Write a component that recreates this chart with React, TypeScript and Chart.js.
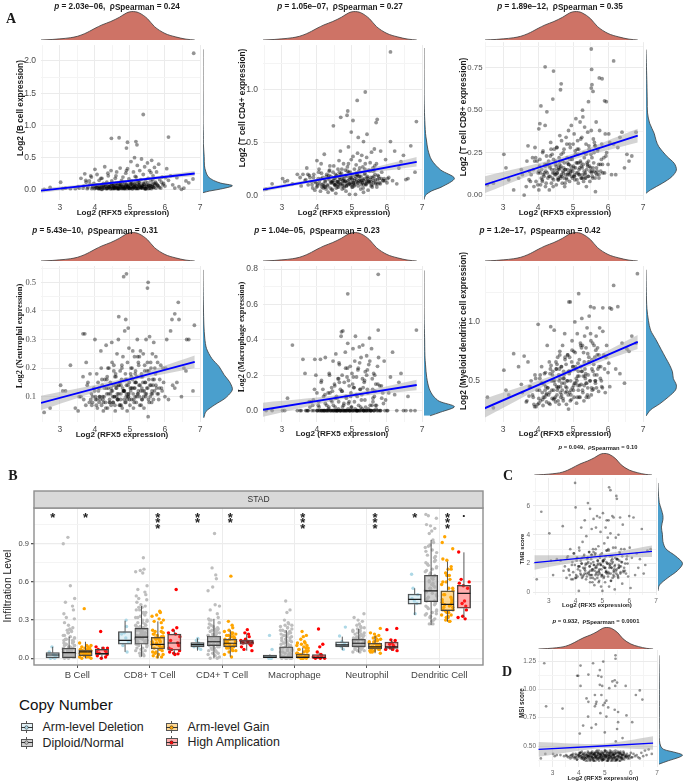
import { useEffect, useRef } from 'react';
import { Chart, registerables } from 'chart.js';
Chart.register(...registerables);

const SANS = '"Liberation Sans", Arial, sans-serif';
const SERIF = '"Liberation Serif", "Times New Roman", serif';

// Shared x: RFX5 expression of the main point cloud
const RFX5 = [
  2.55,2.72,3.02,3.08,3.16,3.3,3.44,3.52,3.6,3.66,
  3.71,3.75,3.8,3.84,3.88,3.91,3.94,3.97,4.0,4.02,
  4.05,4.07,4.1,4.12,4.14,4.17,4.19,4.21,4.24,4.26,
  4.28,4.3,4.32,4.34,4.36,4.38,4.4,4.42,4.44,4.46,
  4.48,4.5,4.52,4.54,4.56,4.58,4.6,4.62,4.63,4.65,
  4.67,4.69,4.7,4.72,4.74,4.76,4.78,4.8,4.81,4.83,
  4.85,4.87,4.88,4.9,4.92,4.93,4.95,4.97,4.98,5.0,
  5.02,5.03,5.05,5.07,5.08,5.1,5.12,5.13,5.15,5.16,
  5.18,5.2,5.21,5.23,5.25,5.26,5.28,5.3,5.31,5.33,
  5.35,5.37,5.38,5.4,5.42,5.44,5.46,5.48,5.5,5.52,
  5.54,5.56,5.58,5.6,5.62,5.64,5.66,5.68,5.7,5.73,
  5.76,5.79,5.82,5.85,5.88,5.92,5.96,6.0,6.05,6.1,
  6.16,6.22,6.28,6.34,6.4,6.47,6.54,6.6,6.68,6.8,
  4.15,4.22,4.33,4.41,4.47,4.55,4.61,4.68,4.73,4.79,
  4.84,4.89,4.94,4.99,5.04,5.09,5.14,5.19,5.24,5.29,
  5.34,5.39,5.43,5.47,5.53,5.57,5.63,5.69,5.78,5.9,
  3.55,3.68,3.78,3.86,3.93,3.99,4.04,4.09,4.13,4.18,
  4.23,4.27,4.31,4.35,4.39,4.43,4.49,4.51,4.53,4.57,
  4.59,4.64,4.66,4.71,4.75,4.77,4.82,4.86,4.91,4.96,
  5.01,5.06,5.11,5.17,5.22,5.27,5.32,5.36,5.41,5.45,
  5.49,5.51,5.55,5.59,5.61,5.65,5.67,5.71,5.74,5.81,
  4.46,4.52,4.57,4.62,4.67,4.72,4.77,4.82,4.87,4.92,
  4.97,5.02,5.07,5.12,5.17,5.22,5.27,5.32,5.37,5.42,
  4.02,4.12,4.24,4.34,4.44,4.54,4.64,4.74,4.84,4.94,
  5.04,5.14,5.24,5.34,5.44,5.54,5.64,5.74,5.84,5.94,
  3.74,3.9,4.06,4.2,4.37,4.6,4.9,5.15,5.6,6.02,
];

const BCELL_Y = [
  .01,.04,.12,.02,.03,.02,.02,.05,.18,.03, .25,.12,.04,.14,.22,.02,.06,.1,.32,.03,
  .04,.08,.02,.15,.03,.18,.05,.01,.1,.04, .36,.06,.02,.12,.03,.22,.05,.08,.02,.3,
  .14,.03,.1,.05,.02,.18,.04,.28,.07,.03, .11,.02,.08,.34,.05,.15,.03,.2,.06,.02,
  .12,.04,.26,.09,.02,.33,.06,.17,.03,.1, .05,.44,.14,.02,.08,.28,.04,.5,.11,.03,
  .2,.06,.38,.02,.12,.08,.3,.04,.16,.48, .03,.1,.24,.05,.36,.13,.02,.08,.42,.18,
  .06,.3,.03,.14,.46,.09,.22,.04,.35,.12, .28,.07,.4,.16,.03,.2,.1,.06,.33,.15,
  .22,.08,.03,.19,.05,.01,.03,.14,.11,.17, .05,.03,.07,.04,.1,.03,.06,.02,.08,.04,
  .03,.07,.05,.02,.09,.04,.06,.03,.08,.05, .04,.09,.03,.06,.02,.07,.05,.1,.08,.12,
  .03,.06,.02,.09,.04,.02,.07,.03,.05,.01, .06,.03,.09,.02,.05,.04,.08,.02,.06,.03,
  .1,.04,.02,.07,.03,.12,.05,.02,.08,.04, .03,.1,.05,.02,.14,.07,.03,.06,.09,.02,
  .05,.11,.03,.07,.02,.16,.04,.08,.03,.06, .02,.07,.04,.1,.03,.05,.02,.08,.04,.06,
  .03,.09,.02,.05,.07,.03,.11,.04,.06,.02, .05,.02,.07,.03,.06,.04,.02,.08,.03,.05,
  .04,.09,.03,.06,.02,.07,.05,.1,.04,.08, .15,.2,.24,.18,.26,.22,.3,.21,.27,.19,
];
const BCELL_OUT = [[6.82,2.12],[5.38,1.17],[6.1,.82],[4.47,.8],[4.69,.81],[4.93,.74],[5.17,.75],[5.2,.7],[4.9,.65]];

const CD4_Y = [
  .06,.11,.16,.13,.14,.11,.2,.17,.2,.14, .26,.1,.17,.13,.07,.2,.05,.12,.33,.09,
  .22,.14,.04,.3,.08,.17,.11,.39,.13,.06, .2,.1,.03,.15,.24,.07,.18,.12,.05,.22,
  .28,.1,.16,.02,.19,.13,.25,.08,.33,.15, .42,.11,.21,.06,.17,.3,.09,.14,.24,.04,
  .18,.27,.1,.46,.15,.01,.22,.12,.34,.08, .19,.37,.11,.25,.16,.01,.29,.13,.2,.4,
  .09,.23,.14,.33,.06,.18,.38,.12,.27,.03, .16,.21,.3,.1,.36,.14,.05,.24,.12,.31,
  .17,.41,.08,.26,.14,.44,.2,.11,.3,.15, .18,.12,.42,.22,.14,.16,.34,.12,.17,.51,
  .14,.42,.11,.26,.32,.38,.15,.16,.47,.22, .1,.08,.17,.13,.12,.07,.1,.15,.11,.13,
  .09,.14,.11,.16,.12,.1,.15,.18,.13,.12, .14,.11,.17,.13,.15,.1,.18,.12,.16,.14,
  .09,.15,.19,.1,.13,.08,.16,.11,.21,.07, .14,.18,.09,.23,.12,.06,.16,.1,.2,.13,
  .08,.17,.11,.25,.14,.07,.19,.12,.22,.1, .15,.09,.18,.12,.26,.14,.07,.2,.11,.16,
  .13,.23,.09,.17,.12,.28,.15,.08,.19,.11, .14,.1,.18,.12,.2,.09,.16,.13,.23,.11,
  .17,.08,.14,.21,.12,.18,.1,.15,.25,.13, .11,.16,.08,.19,.13,.1,.22,.14,.09,.17,
  .12,.2,.15,.1,.18,.13,.24,.11,.16,.14, .2,.17,.25,.09,.28,.13,.3,.19,.23,.16,
];
const CD4_OUT = [[6.1,1.36],[5.38,.98],[5.15,.9],[4.47,.66],[4.88,.8],[4.86,.76],[4.68,.74],[5.03,.71],[5.72,.72],[5.69,.69],[6.84,.7],[4.98,.6],[5.43,.58],[5.18,.55],[5.33,.51]];

const CD8_Y = [
  .06,.07,.24,.16,.09,.03,.1,.15,.0,.05, .29,.14,.12,.22,.05,.28,.08,.2,.13,.03,
  .21,.06,.15,.09,.26,.11,.18,.05,.23,.13, .1,.2,.03,.16,.31,.07,.24,.13,.09,.27,
  .12,.18,.06,.28,.15,.09,.22,.35,.11,.17, .32,.07,.2,.13,.27,.05,.15,.34,.1,.22,
  .12,.38,.18,.08,.28,.14,.41,.21,.1,.3, .16,.36,.09,.24,.45,.13,.19,.32,.07,.27,
  .12,.43,.2,.1,.34,.16,.46,.08,.25,.4, .13,.3,.05,.19,.37,.11,.27,.08,.16,.38,
  .22,.1,.33,.14,.29,.02,.43,.12,.26,.18, .38,.14,.3,.13,.22,.36,.25,.18,.31,.12,
  .3,.12,.28,.34,.37,.16,.24,.2,.23,.37, .12,.14,.17,.1,.15,.13,.18,.11,.16,.12,
  .15,.12,.17,.14,.11,.19,.13,.16,.1,.18, .12,.15,.11,.17,.13,.16,.1,.14,.18,.13,
  .12,.2,.08,.15,.22,.06,.17,.1,.25,.13, .07,.18,.11,.23,.15,.05,.2,.12,.28,.09,
  .16,.1,.24,.14,.19,.07,.3,.13,.21,.11, .17,.26,.09,.15,.33,.12,.22,.1,.18,.29,
  .14,.24,.11,.19,.31,.13,.16,.27,.1,.21, .13,.17,.1,.2,.12,.25,.15,.09,.18,.13,
  .22,.11,.16,.27,.12,.19,.1,.14,.24,.17, .14,.08,.18,.11,.21,.13,.16,.1,.19,.15,
  .12,.24,.17,.1,.2,.14,.29,.12,.18,.23, .09,.2,.13,.17,.27,.15,.3,.19,.25,.36,
];
const CD8_OUT = [[5.52,.86],[6.16,.79],[4.2,.755],[4.44,.73],[5.53,.74],[4.66,.655],[4.64,.62],[5.54,.65],[5.52,.63],[5.57,.61],[5.75,.69],[5.83,.685],[4.42,.565],[5.44,.55],[5.9,.555],[5.95,.55],[4.08,.525],[4.25,.49],[5.27,.5],[4.05,.42],[4.02,.39],[4.2,.41]];

const NEUT_Y = [
  .045,.06,.14,.12,.12,.21,.06,.05,.1,.17, .32,.22,.15,.08,.09,.07,.1,.13,.3,.09,
  .18,.06,.12,.08,.1,.26,.07,.14,.05,.1, .16,.08,.28,.11,.06,.13,.2,.09,.15,.07,
  .29,.12,.08,.21,.1,.05,.17,.13,.25,.09, .3,.14,.07,.19,.11,.16,.06,.24,.12,.09,
  .33,.18,.08,.14,.05,.22,.11,.27,.15,.07, .12,.2,.09,.16,.26,.06,.13,.24,.1,.19,
  .08,.17,.3,.11,.21,.14,.07,.26,.12,.18, .09,.15,.25,.06,.19,.11,.3,.13,.22,.03,
  .16,.31,.1,.2,.08,.25,.14,.29,.12,.18, .13,.22,.09,.16,.21,.12,.15,.1,.3,.09,
  .33,.14,.13,.15,.37,.1,.2,.19,.3,.12, .09,.1,.13,.08,.12,.1,.14,.11,.09,.13,
  .12,.1,.14,.09,.13,.11,.15,.1,.12,.14, .13,.1,.15,.11,.09,.14,.12,.16,.11,.13,
  .1,.09,.14,.18,.08,.12,.07,.15,.1,.2, .09,.13,.06,.17,.11,.08,.22,.1,.14,.07,
  .18,.11,.09,.15,.07,.21,.12,.08,.16,.1, .13,.2,.09,.15,.11,.24,.07,.17,.12,.1,
  .19,.13,.08,.22,.11,.16,.09,.2,.14,.11, .13,.08,.17,.1,.14,.07,.2,.12,.16,.09,
  .11,.18,.13,.08,.15,.24,.1,.17,.12,.21, .1,.13,.08,.16,.11,.19,.09,.14,.12,.1,
  .17,.13,.22,.09,.15,.19,.11,.24,.13,.2, .07,.11,.09,.16,.2,.13,.11,.18,.14,.2,
];
const NEUT_OUT = [[4.82,.52],[4.9,.53],[5.52,.5],[5.5,.48],[6.84,.35],[6.38,.43],[6.28,.39],[6.2,.37],[4.68,.38],[4.88,.37],[4.95,.34],[3.66,.32],[6.62,.3]];

const MACRO_Y = [
  0,0,0,0,.07,.37,0,0,.29,.21, 0,0,.02,.05,.03,0,.29,.2,.1,0,
  .05,0,.29,.16,0,.12,.08,0,.3,0, .03,0,.1,.02,.2,0,.06,.13,0,.28,
  0,.15,.02,.32,.08,0,.18,.05,.27,0, .12,.42,0,.2,.45,.03,.16,0,.33,.08,
  0,.24,.38,.04,.14,0,.25,.1,.02,.21, 0,.35,.13,.05,.28,.42,0,.19,.08,0,
  .24,0,.36,.12,.02,.3,.09,.18,.37,0, .16,.06,.22,0,.31,.12,0,.26,.41,.03,
  0,.35,.18,.07,.21,0,.11,.15,.03,.25, .3,.14,0,.07,.1,.28,.06,0,.1,.19,
  .33,.09,0,.16,.21,0,0,.08,0,0, 0,0,.01,0,.03,0,.01,0,.02,0,
  0,.01,0,.02,0,.01,0,.03,0,.01, 0,.02,0,.01,0,.03,0,.01,0,.04,
  0,0,.05,0,.12,0,.03,0,.17,0, .09,0,0,.21,0,.05,0,.14,0,.07,
  0,.26,0,.11,0,.04,0,.19,0,.08, 0,.13,0,.23,0,.06,0,.17,0,.1,
  0,.28,0,.12,0,.2,.03,0,.15,0, 0,.07,0,.18,0,.11,0,.24,0,.05,
  0,.15,0,.09,0,.27,0,.13,0,.2, 0,0,.04,0,.11,0,.16,0,.07,0,
  .19,0,.12,0,.23,0,.08,0,.14,0, 0,.06,.02,0,.1,0,.17,0,.05,0,
];
const MACRO_OUT = [[5.75,.77],[4.88,.66],[6.84,.455],[5.75,.455],[4.7,.445]];

const MDC_Y = [
  .36,.27,.59,.42,.38,.73,.62,.47,.71,.32, .66,.45,.5,.38,.3,.55,.28,.42,.98,.35,
  .52,.33,.62,.4,.29,.47,.36,.57,.32,.8, .44,.38,.66,.3,.96,.5,.35,.58,.42,.93,
  .47,.32,.6,.38,.7,.45,.3,.75,.52,.36, .62,.42,.8,.33,.55,.9,.4,.64,.3,.5,
  .72,.26,.58,.4,1.17,.5,.34,.84,.44,.62, .75,.36,1.0,.48,.6,.31,.9,.54,.42,1.24,
  .68,.36,.82,.47,1.03,.58,.4,.74,.33,.88, .52,.78,.36,.95,.44,.66,1.05,.5,.9,.38,
  .6,.82,.43,1.12,.7,.48,.88,.55,.78,.41, .95,.62,.45,.92,.72,.4,.8,.57,.45,1.11,
  1.31,.6,1.13,.56,.82,.48,.77,.75,.88,.82, .36,.45,.4,.55,.5,.42,.6,.48,.58,.45,
  .5,.56,.42,.62,.48,.52,.65,.46,.58,.54, .6,.48,.55,.66,.44,.58,.5,.72,.52,.6,
  .4,.33,.45,.36,.52,.3,.42,.48,.34,.56, .38,.44,.31,.6,.42,.5,.36,.66,.45,.33,
  .55,.4,.62,.35,.48,.7,.44,.38,.58,.66, .42,.74,.5,.36,.62,.8,.46,.56,.38,.7,
  .5,.84,.42,.64,.55,.76,.44,.6,.72,.5, .35,.6,.44,.72,.38,.52,.68,.41,.58,.33,
  .76,.46,.62,.36,.54,.8,.42,.66,.48,.73, .31,.48,.39,.56,.34,.64,.45,.52,.72,.38,
  .6,.46,.78,.54,.36,.68,.5,.62,.44,.7, .37,.28,.55,.42,.63,.5,.7,.58,.8,.65,
];
const MDC_OUT = [[6.84,1.41],[4.88,1.17],[5.5,1.13],[5.85,1.12],[6.05,1.12]];

const TMB_Y = [
  .9,5.6,4.1,2.2,1.2,2.3,2.2,4.6,1.8,1.0, 2.5,1.5,3.0,.9,2.1,1.4,2.7,1.9,5.9,1.2,
  2.4,1.1,1.8,.1,2.9,1.5,2.2,4.5,1.0,3.5, 1.7,1.2,2.6,5.0,1.5,2.0,3.9,1.1,2.4,6.2,
  1.3,2.8,1.8,5.8,1.0,2.3,4.4,1.5,.7,3.0, 5.1,1.9,.5,2.6,1.2,4.5,1.7,5.3,1.0,2.2,
  3.2,1.5,.8,5.2,2.0,4.2,.4,1.2,2.7,.1, 5.5,1.8,1.0,3.4,2.3,.7,4.5,1.4,2.9,5.0,
  2.0,3.8,1.1,5.0,.4,1.7,2.5,4.1,1.3,2.2, 2.0,5.3,1.0,3.1,5.2,1.6,.2,2.4,3.8,1.3,
  6.5,2.3,1.1,4.0,1.7,2.8,5.2,1.4,3.0,2.1, 4.7,1.4,3.0,2.0,1.3,2.5,1.1,5.3,.3,2.4,
  5.2,1.2,2.7,1.7,2.3,4.4,1.3,1.9,2.9,3.0, 1.8,2.0,1.6,1.3,2.1,1.5,1.2,1.9,1.7,1.4,
  2.0,1.6,1.9,1.2,2.2,1.7,1.5,2.0,1.3,1.8, 1.7,2.1,1.4,1.9,1.6,1.2,2.2,1.8,1.5,2.3,
  1.5,2.4,1.2,1.9,2.7,1.0,2.2,1.6,3.1,1.3, 2.0,1.1,2.5,1.7,.9,2.3,1.4,2.8,1.8,1.2,
  2.6,1.0,2.1,1.5,3.0,1.3,1.9,.7,2.4,1.6, 2.2,1.1,1.7,2.9,1.4,2.0,.8,2.5,1.2,1.8,
  3.1,1.5,2.3,1.0,1.9,2.7,1.3,2.1,.6,1.7, 2.4,1.2,2.0,1.6,2.8,.9,1.8,2.2,1.4,2.6,
  1.1,2.1,1.7,2.5,1.3,3.0,1.9,.8,2.3,1.5, 1.0,1.8,2.4,1.3,2.0,.7,1.6,2.7,1.2,1.9,
  2.2,1.4,2.9,1.7,1.1,2.3,1.8,2.5,1.5,2.0, 1.6,.9,2.4,1.2,1.9,2.6,1.3,2.1,1.7,3.1,
];
const TMB_OUT = [[3.98,7.6],[5.25,7.3],[5.3,7.1],[5.52,6.7]];

const MSI_Y = [
  .39,.43,.43,.41,.42,.42,.41,.42,.4,.41, .42,.4,.41,.39,.43,.42,.38,.41,.43,.4,
  .41,.44,.39,.42,.4,.43,.38,.41,.44,.39, .42,.4,.43,.37,.41,.44,.39,.42,.4,.43,
  .38,.41,.45,.39,.42,.37,.43,.4,.44,.41, .39,.42,.46,.38,.41,.44,.37,.4,.43,.42,
  .39,.45,.41,.37,.43,.4,.44,.38,.42,.46, .41,.39,.43,.37,.45,.4,.42,.38,.44,.41,
  .39,.46,.42,.37,.4,.44,.38,.43,.41,.45, .39,.42,.37,.44,.4,.43,.38,.41,.45,.39,
  .42,.37,.44,.4,.41,.43,.38,.42,.39,.44, .41,.42,.4,.43,.39,.41,.42,.44,.4,.43,
  .41,.42,.4,.39,.44,.41,.46,.42,.47,.43, .4,.42,.39,.43,.41,.38,.44,.4,.42,.39,
  .43,.41,.38,.42,.4,.44,.39,.43,.41,.37, .42,.4,.44,.38,.41,.43,.39,.42,.4,.41,
  .41,.39,.43,.4,.38,.42,.44,.41,.39,.43, .4,.37,.42,.45,.41,.38,.44,.4,.43,.39,
  .42,.37,.41,.44,.39,.46,.4,.43,.38,.42, .45,.41,.37,.44,.4,.42,.39,.43,.46,.38,
  .41,.44,.4,.37,.43,.39,.42,.45,.38,.41, .44,.4,.37,.42,.45,.39,.43,.41,.38,.44,
  .4,.46,.42,.37,.41,.44,.39,.43,.4,.38, .42,.45,.39,.41,.37,.43,.4,.44,.42,.38,
  .41,.39,.45,.42,.37,.44,.4,.43,.41,.39, .42,.4,.44,.38,.41,.43,.39,.42,.45,.4,
];
const MSI_OUT = [[2.68,1.23],[2.75,.85],[3.38,.83],[4.07,1.21],[3.94,1.12],[3.98,1.12],[4.55,1.23],[4.94,1.245],[4.81,1.17],[4.37,1.13],[4.75,1.12],[4.87,1.11],[5.41,1.3],[5.41,1.27],[5.38,1.08],[5.29,1.07],[5.47,1.06],[4.07,1.03],[4.81,1.04],[4.9,1.03],[5.17,1.01],[5.4,1.03],[5.8,1.03],[6.34,.99],[6.19,.95],[6.44,.91],[4.3,.92],[4.37,.89],[4.62,.95],[4.87,.95],[4.68,.89],[4.66,.87],[5.06,.9],[5.0,.88],[4.94,.86],[4.62,.85],[5.13,.84],[4.83,.79],[5.06,.76],[5.38,.82],[5.51,.8],[5.51,.71],[5.83,.77],[6.05,.71],[4.36,.76],[4.17,.68],[4.49,.66],[4.66,.69],[4.04,.61],[5.0,.62],[5.47,.65],[5.68,.57],[5.42,.54]];

// Regression fit and its confidence band, at three x positions
const FIT_X = [2.46, 4.9, 6.85];
const FIT_BCELL = [-.01,.135,.255], LOW_BCELL = [-.045,.115,.215], HIGH_BCELL = [.025,.155,.295];
const FIT_CD4 = [.055,.198,.318], LOW_CD4 = [.035,.183,.273], HIGH_CD4 = [.075,.213,.363];
const FIT_CD8 = [.06,.22,.35], LOW_CD8 = [.01,.202,.31], HIGH_CD8 = [.11,.238,.39];
const FIT_NEUT = [.078,.158,.222], LOW_NEUT = [.053,.15,.2], HIGH_NEUT = [.103,.166,.244];
const FIT_MACRO = [.005,.083,.145], LOW_MACRO = [-.035,.071,.115], HIGH_MACRO = [.045,.095,.175];
const FIT_MDC = [.265,.58,.83], LOW_MDC = [.185,.56,.77], HIGH_MDC = [.345,.6,.89];
const FIT_TMB = [2.07,2.5,2.85], LOW_TMB = [1.57,2.35,2.45], HIGH_TMB = [2.57,2.65,3.25];
const FIT_MSI = [.47,.5,.526], LOW_MSI = [.405,.48,.466], HIGH_MSI = [.535,.52,.586];

// Top marginal density of RFX5
const TOP_X = [2.46,2.8,3.0,3.3,3.5,3.7,3.85,4.0,4.2,4.45,4.7,4.9,5.05,5.25,5.5,5.7,6.0,6.3,6.6,6.85];
const TOP_D = [.0,.02,.04,.08,.13,.22,.31,.41,.53,.65,.8,.95,1.0,.96,.75,.47,.23,.11,.03,.0];

// Side marginal densities (value, density)
const SIDE_BCELL_V = [-.045,-.02,.01,.06,.1,.14,.2,.28,.36,.5,.7,.82,1.0,1.2,1.6,2.12];
const SIDE_BCELL_D = [0,.22,.6,1,.6,.36,.17,.09,.05,.04,.012,.012,.003,.003,.001,0];
const SIDE_CD4_V = [-.04,.0,.04,.08,.157,.234,.326,.42,.51,.57,.73,.88,1.1,1.36];
const SIDE_CD4_D = [0,.05,.25,.6,1,.55,.25,.13,.08,.05,.02,.005,.002,0];
const SIDE_CD8_V = [.01,.03,.07,.107,.146,.185,.224,.283,.32,.36,.42,.48,.555,.65,.75,.85];
const SIDE_CD8_D = [0,.15,.55,.85,1,.93,.7,.42,.33,.27,.12,.05,.04,.03,.015,0];
const SIDE_NEUT_V = [.026,.047,.07,.092,.115,.126,.149,.172,.2,.228,.262,.297,.342,.4,.456,.53];
const SIDE_NEUT_D = [.03,.1,.4,.75,.97,1,.9,.72,.55,.3,.12,.06,.03,.015,.005,0];
const SIDE_MACRO_V = [-.03,-.01,.02,.05,.08,.12,.18,.25,.3,.4,.5,.77];
const SIDE_MACRO_D = [.2,.55,1,.5,.3,.17,.09,.05,.03,.02,.005,0];
const SIDE_MDC_V = [.2,.25,.3,.36,.414,.455,.51,.566,.62,.68,.75,.83,.91,.99,1.09,1.23,1.41];
const SIDE_MDC_D = [0,.15,.45,.75,.97,1,.9,.87,.78,.65,.5,.33,.15,.08,.03,.01,0];
const SIDE_TMB_V = [.1,.5,1,1.5,2,2.5,3,3.5,4,4.5,5,5.3,5.7,6.2,7,7.54];
const SIDE_TMB_D = [0,.06,.4,.8,1,.72,.32,.2,.18,.14,.2,.2,.14,.05,.01,0];
const SIDE_MSI_V = [.34,.37,.4,.42,.44,.47,.5,.55,.6,.8,1.0,1.3];
const SIDE_MSI_D = [0,.4,.85,1,.75,.2,.07,.02,.01,.015,.015,0];

// Box panel
const CATEGORIES = ['B Cell','CD8+ T Cell','CD4+ T Cell','Macrophage','Neutrophil','Dendritic Cell'];
const COPY_NUMBER = ['Arm-level Deletion','Diploid/Normal','Arm-level Gain','High Amplication'];
const POINT_COLORS = ['#add8e6','#bebebe','#ffa500','#ff0000'];
const BOX_COLORS = ['rgba(173,216,230,.35)','rgba(170,170,170,.55)','rgba(255,165,0,.42)','rgba(255,60,60,.42)'];
const GROUP_OFFSET = [-.34,-.113,.113,.34];
const JITTER_WIDTH = [.05,.085,.085,.085];
const JITTER = [-.2,.55,-.75,.3,.9,-.45,.1,-.95,.7,-.1,.4,-.6,.85,-.3,.2,-.85,.6];

const Q1 = [[.003,.11,.09,0,.09,.425],[0,.11,.10,0,.09,.445],[.02,.073,.09,0,.073,.374],[.03,.063,.11,0,.078,.393]];
const MEDIAN = [[.026,.14,.107,.008,.105,.463],[.045,.167,.13,.008,.118,.53],[.05,.11,.118,.008,.09,.424],[.037,.12,.128,.005,.09,.51]];
const Q3 = [[.045,.21,.123,.025,.13,.505],[.08,.235,.175,.09,.15,.652],[.065,.165,.15,.034,.118,.53],[.07,.19,.144,.03,.128,.573]];
const WHISK_LOW = [[0,.05,.06,0,.065,.34],[0,.013,0,0,.045,.26],[0,0,.013,0,.04,.288],[0,.03,.06,0,.06,.32]];
const WHISK_HIGH = [[.09,.295,.157,.03,.17,.55],[.17,.41,.31,.22,.23,.93],[.13,.29,.22,.083,.175,.76],[.09,.22,.195,.045,.145,.832]];

const PTS_DELETION = [
  [.09,.05,.03,.02,0,0,.01],
  [.3,.25,.2,.19,.16,.13,.1,.05],
  [.155,.14,.12,.11,.1,.09,.08,.07],
  [.18,.07,.01,0,0,0],
  [.245,.175,.13,.11,.1,.09,.07],
  [.66,.55,.5,.47,.45,.43,.35],
];
const PTS_DIPLOID = [
  [.95,.9,.57,.47,.44,.41,.38,.35,.32,.31,.28,.26,.24,.23,.22,.22,.21,.2,.18,.17,.16,.15,.14,.13,.12,.11,.1,.1,.09,.08,.08,.07,.06,.06,.05,.05,.04,.04,.03,.03,.02,.02,.01,.01,0,0,.02,.03,.04,.05,.06,.07,.08,.09,.1,.11,.12,.13,.14,.15,.16,.18,.2,.01,.02,.03,.04,.05,.06,.07,.08,.01,.02,.03],
  [.79,.7,.69,.68,.67,.57,.54,.52,.5,.49,.47,.46,.44,.42,.41,.4,.38,.36,.35,.33,.32,.3,.29,.28,.27,.26,.25,.24,.23,.22,.21,.2,.19,.18,.18,.17,.16,.16,.15,.14,.13,.13,.12,.11,.1,.09,.08,.07,.06,.05,.04,.03,.02,.02,.06,.08,.1,.12,.13,.14,.15,.16,.17,.18,.19,.2,.21,.22,.23,.24,.25,.26,.28,.3,.32,.34,.36,.38,.4,.12,.14,.16,.18,.2,.22,.24],
  [.98,.71,.655,.625,.56,.53,.42,.41,.38,.35,.32,.31,.3,.28,.27,.25,.24,.23,.22,.21,.2,.19,.18,.17,.16,.16,.15,.14,.13,.13,.12,.11,.1,.09,.08,.07,.06,.05,.04,.03,.02,.01,0,0,.04,.06,.08,.09,.1,.11,.12,.13,.14,.15,.16,.17,.18,.19,.2,.21,.22,.23,.24,.26,.28,.3,.09,.11,.13,.15,.17,.19],
  [.45,.38,.36,.3,.28,.27,.26,.25,.24,.23,.22,.21,.2,.19,.18,.17,.16,.15,.14,.13,.12,.11,.1,.09,.08,.07,.06,.05,.04,.03,.02,.01,0,0,0,0,0,.01,.02,.03,.04,.05,.06,.07,.08,.09,.1,.11,.12,.13,.14,.15,.16,.17,.18,.19,.2,.21,.22,.24,.26],
  [.35,.32,.3,.29,.27,.26,.25,.24,.23,.22,.21,.2,.19,.18,.17,.16,.15,.14,.13,.12,.11,.1,.09,.08,.07,.06,.05,.05,.06,.07,.08,.09,.1,.11,.12,.13,.14,.15,.16,.17,.18,.19,.2,.21,.22,.24,.08,.1,.12,.14,.16,.18],
  [1.13,1.12,1.1,1.05,1.04,1.02,1.0,.98,.93,.91,.89,.87,.85,.83,.81,.79,.77,.75,.73,.71,.69,.67,.65,.63,.61,.59,.57,.55,.53,.51,.49,.47,.45,.43,.41,.39,.37,.35,.33,.31,.29,.27,.27,.3,.32,.34,.36,.38,.4,.42,.44,.46,.48,.5,.52,.54,.56,.58,.6,.62,.64,.66,.68,.7,.72,.74,.76,.8,.84,.88,.35,.45,.55],
];
const PTS_GAIN = [
  [.39,.12,.1,.1,.09,.08,.08,.07,.06,.06,.05,.05,.04,.04,.03,.03,.02,.02,.01,.01,0,0,.02,.03,.04,.05,.06,.07,.08,.01,.03,.05,.07,.09],
  [.37,.36,.34,.33,.31,.3,.29,.28,.24,.22,.21,.2,.19,.18,.17,.16,.15,.14,.13,.12,.11,.1,.09,.08,.07,.06,.05,.04,.03,.02,.01,.01,.03,.05,.07,.09,.11,.13,.15,.17,.19,.21,.08,.12,.16,.2],
  [.645,.29,.26,.24,.22,.21,.2,.19,.18,.17,.16,.15,.14,.13,.12,.11,.1,.09,.08,.07,.06,.05,.03,.01,.06,.08,.09,.1,.11,.12,.13,.14,.15,.16,.17,.18,.19,.2],
  [.21,.18,.17,.15,.13,.12,.11,.1,.09,.08,.07,.06,.05,.04,.03,.02,.01,0,0,0,0,.01,.02,.03,.04,.05,.06,.07,.08,.1,.12],
  [.235,.2,.19,.18,.17,.16,.15,.14,.13,.12,.11,.1,.09,.08,.07,.06,.05,.04,.05,.06,.07,.08,.09,.1,.11,.12,.13,.14,.15,.07,.09,.11],
  [.91,.955,.86,.78,.77,.72,.7,.67,.65,.62,.6,.58,.55,.53,.5,.48,.46,.44,.42,.4,.38,.36,.34,.32,.3,.29,.29,.32,.34,.36,.38,.4,.42,.44,.46,.5,.55,.6,.65,.7,.33,.37,.41],
];
const PTS_AMP = [
  [.21,.09,.08,.08,.07,.06,.05,.05,.04,.03,.02,0,.01],
  [.54,.24,.22,.2,.19,.17,.14,.12,.1,.08,.07,.06,.05,.04,.035,.03],
  [.225,.2,.19,.17,.15,.14,.13,.12,.12,.11,.1,.09,.07,.06],
  [.23,.11,.09,.05,.03,.02,.01,.01,0,0,0],
  [.235,.225,.145,.14,.12,.11,.1,.09,.08,.07,.07,.06],
  [.835,.62,.6,.59,.57,.55,.45,.43,.41,.38,.33,.32,.31],
];
const BOX_POINTS = [PTS_DELETION, PTS_DIPLOID, PTS_GAIN, PTS_AMP];
// [category, group, marker, repeats]
const SIGNIFICANCE = [[0,0,'*',1],[0,2,'*',1],[1,2,'*',3],[2,0,'*',2],[2,2,'*',2],[3,2,'*',3],[4,2,'*',3],[5,0,'*',1],[5,2,'*',3],[5,3,'.',1]];

const yRange = (cal: number[], T: number, B: number) => {
  const [v1, p1, v2, p2] = cal;
  const u = (v2 - v1) / (p1 - p2);
  return { min: v1 - (B - p1) * u, max: v1 + (p1 - T) * u };
};

const SANS_TICK = { family: SANS };
const PANELS = [
  { L:41,R:200,T:41,B:200,xMin:2.46,cal:[0,189.7,2,57.3],step:.25,dec:1,ys:BCELL_Y,out:BCELL_OUT,fit:FIT_BCELL,low:LOW_BCELL,high:HIGH_BCELL,sv:SIDE_BCELL_V,sd:SIDE_BCELL_D,sx:[203,233],topB:40,topH:29,tickSize:8.5,tickColor:'#4a4a4a',r:1.9 },
  { L:263,R:422,T:41,B:200,xMin:2.46,cal:[0,195.3,1,87],step:.25,dec:1,ys:CD4_Y,out:CD4_OUT,fit:FIT_CD4,low:LOW_CD4,high:HIGH_CD4,sv:SIDE_CD4_V,sd:SIDE_CD4_D,sx:[424,455],topB:40,topH:29,tickSize:8.5,tickColor:'#4a4a4a',r:1.9 },
  { L:485,R:643,T:41,B:200,xMin:2.48,cal:[0,195,.75,66.7],step:.125,dec:2,ys:CD8_Y,out:CD8_OUT,fit:FIT_CD8,low:LOW_CD8,high:HIGH_CD8,sv:SIDE_CD8_V,sd:SIDE_CD8_D,sx:[646,677],topB:40,topH:29,tickSize:8.5,yTick:7.8,yPad:2.5,tickColor:'#4a4a4a',r:1.9 },
  { L:41,R:200,T:262,B:422,xMin:2.46,cal:[.1,396,.5,278.7],step:.05,dec:1,ys:NEUT_Y,out:NEUT_OUT,fit:FIT_NEUT,low:LOW_NEUT,high:HIGH_NEUT,sv:SIDE_NEUT_V,sd:SIDE_NEUT_D,sx:[203,233],topB:261,topH:29,tickSize:8.5,tickColor:'#4a4a4a',r:1.9,yFont:SERIF },
  { L:263,R:422,T:262,B:422,xMin:2.46,cal:[0,410.3,.8,265],step:.1,dec:1,ys:MACRO_Y,out:MACRO_OUT,fit:FIT_MACRO,low:LOW_MACRO,high:HIGH_MACRO,sv:SIDE_MACRO_V,sd:SIDE_MACRO_D,sx:[424,455],topB:261,topH:29,tickSize:8.5,tickColor:'#4a4a4a',r:1.9 },
  { L:485,R:643,T:262,B:422,xMin:2.48,cal:[.5,379.7,1,319.3],step:.25,dec:1,ys:MDC_Y,out:MDC_OUT,fit:FIT_MDC,low:LOW_MDC,high:HIGH_MDC,sv:SIDE_MDC_V,sd:SIDE_MDC_D,sx:[646,677],topB:261,topH:29,tickSize:8.5,tickColor:'#4a4a4a',r:1.9 },
  { L:533,R:656,T:477,B:595,xMin:2.41,cal:[0,592.3,6,505.3],step:1,dec:0,ys:TMB_Y,out:TMB_OUT,fit:FIT_TMB,low:LOW_TMB,high:HIGH_TMB,sv:SIDE_TMB_V,sd:SIDE_TMB_D,sx:[658,683],topB:475,topH:22,tickSize:6.5,yPad:3,tickColor:'#666',r:1.35 },
  { L:538,R:657,T:650,B:767,xMin:2.44,cal:[.5,746,1.25,661],step:.125,dec:2,ys:MSI_Y,out:MSI_OUT,fit:FIT_MSI,low:LOW_MSI,high:HIGH_MSI,sv:SIDE_MSI_V,sd:SIDE_MSI_D,sx:[659,683],topB:649,topH:22,tickSize:6.5,yPad:2,tickColor:'#666',r:1.35 },
];

type Note = { x:number; y:number; t:any; size:number; serif?:boolean; bold?:boolean; rot?:boolean; color?:string; left?:boolean };
const X_TITLE = 'Log2 (RFX5 expression)';
const pText = (p: string, r: string) => (
  <><i>p</i>{` = ${p},  ρ`}<span style={{ position:'relative', top:'1px' }}>Spearman</span>{` = ${r}`}</>
);
const NOTES: Note[] = [
  { x:117,y:7,t:pText('2.03e−06','0.24'),size:8.2,bold:true },
  { x:340,y:7,t:pText('1.05e−07','0.27'),size:8.2,bold:true },
  { x:560,y:7,t:pText('1.89e−12','0.35'),size:8.2,bold:true },
  { x:95,y:231,t:pText('5.43e−10','0.31'),size:8.2,bold:true },
  { x:317,y:231,t:pText('1.04e−05','0.23'),size:8.2,bold:true },
  { x:540,y:231,t:pText('1.2e−17','0.42'),size:8.2,bold:true },
  { x:598,y:448,t:pText('0.049','0.10'),size:5.8,bold:true },
  { x:596,y:622,t:pText('0.932','0.0001'),size:5.9,bold:true },
  { x:123,y:213,t:X_TITLE,size:8.1,bold:true },
  { x:344,y:213,t:X_TITLE,size:8.1,bold:true },
  { x:565,y:213,t:X_TITLE,size:8.1,bold:true },
  { x:122,y:435,t:X_TITLE,size:8.1,bold:true },
  { x:342,y:433.5,t:X_TITLE,size:8.1,bold:true },
  { x:565,y:433.5,t:X_TITLE,size:8.1,bold:true },
  { x:597,y:605,t:X_TITLE,size:6.1,bold:true },
  { x:603,y:778,t:X_TITLE,size:6.2,bold:true },
  { x:20,y:108,t:'Log2 (B cell expression)',size:8.3,bold:true,rot:true },
  { x:242,y:108,t:'Log2 (T cell CD4+ expression)',size:8.3,bold:true,rot:true },
  { x:462.5,y:117,t:'Log2 (T cell CD8+ expression)',size:8.3,bold:true,rot:true },
  { x:20,y:336,t:'Log2 (Neutrophil expression)',size:8.4,bold:true,rot:true,serif:true },
  { x:242,y:337,t:'Log2 (Macrophage expression)',size:8.4,bold:true,rot:true,serif:true },
  { x:462.5,y:331,t:'Log2 (Myeloid dendritic cell expression)',size:8.3,bold:true,rot:true },
  { x:522,y:549,t:'TMB score',size:6,bold:true,rot:true },
  { x:522,y:703,t:'MSI score',size:6.3,bold:true,rot:true },
  { x:11,y:19,t:'A',size:14,bold:true,serif:true },
  { x:13,y:476,t:'B',size:14,bold:true,serif:true },
  { x:508,y:476,t:'C',size:14,bold:true,serif:true },
  { x:507,y:672,t:'D',size:14,bold:true,serif:true },
  { x:7.5,y:586,t:'Infiltration Level',size:10.4,rot:true,color:'#222' },
  { x:19,y:704.5,t:'Copy Number',size:15.2,left:true,color:'#111' },
  { x:42.5,y:727,t:COPY_NUMBER[0],size:12.4,left:true,color:'#222' },
  { x:42.5,y:742.7,t:COPY_NUMBER[1],size:12.4,left:true,color:'#222' },
  { x:187.5,y:727,t:COPY_NUMBER[2],size:12.4,left:true,color:'#222' },
  { x:187.5,y:742,t:COPY_NUMBER[3],size:12.4,left:true,color:'#222' },
];
const LEGEND_KEYS = [{ x:26.5,y:727,g:0 },{ x:26.5,y:742.7,g:1 },{ x:171.5,y:727,g:2 },{ x:171.5,y:742,g:3 }];

const YW = 36, XH = 20, PAD = 6;

function gridColor(isMajor: boolean) { return isMajor ? '#ebebeb' : '#f4f4f4'; }

function makeScatter(c: HTMLCanvasElement, p: any) {
  const major = p.step * 2;
  const isMaj = (v: number) => Math.abs(v / major - Math.round(v / major)) < 1e-6;
  const { min, max } = yRange(p.cal, p.T, p.B);
  const pts = RFX5.map((x, i) => ({ x, y: p.ys[i] })).concat(p.out.map((o: number[]) => ({ x: o[0], y: o[1] })));
  const toXY = (a: number[]) => FIT_X.map((x, i) => ({ x, y: a[i] }));
  return new Chart(c, {
    type: 'scatter',
    data: { datasets: [
      { type:'line', data: toXY(p.fit), borderColor:'#0000ff', borderWidth: p.r < 1.5 ? 1.3 : 1.9, pointRadius:0, order:1 },
      { type:'line', data: toXY(p.high), borderWidth:0, pointRadius:0, tension:.3, fill:'+1', backgroundColor:'rgba(170,170,170,.5)', order:2 },
      { type:'line', data: toXY(p.low), borderWidth:0, pointRadius:0, tension:.3, order:3 },
      { data: pts, pointRadius:p.r, pointBorderWidth:0, pointBackgroundColor:'rgba(0,0,0,.42)', order:4 },
    ] as any },
    options: {
      responsive:false, animation:false, layout:{ padding:{ top:PAD, right:PAD } },
      plugins:{ legend:{ display:false }, tooltip:{ enabled:false } },
      scales:{
        x:{ type:'linear', min:p.xMin, max:7, afterFit:(s:any)=>{ s.height=XH; },
          border:{ display:false },
          grid:{ drawTicks:false, color:(ctx:any)=>gridColor(Number.isInteger(ctx.tick?.value)) },
          ticks:{ stepSize:.5, includeBounds:false, autoSkip:false, maxRotation:0, padding:2.5, color:p.tickColor, font:{ ...SANS_TICK, size:p.tickSize },
            callback:(v:any)=>Number.isInteger(v)?String(v):'' } },
        y:{ type:'linear', min, max, afterFit:(s:any)=>{ s.width=YW; },
          border:{ display:false },
          grid:{ drawTicks:false, color:(ctx:any)=>gridColor(isMaj(ctx.tick?.value ?? 0)) },
          ticks:{ stepSize:p.step, includeBounds:false, autoSkip:false, padding:p.yPad ?? 5, color:p.tickColor, font:{ family:p.yFont||SANS, size:p.yTick ?? p.tickSize },
            callback:(v:any)=>isMaj(v)?Number(v).toFixed(p.dec):'' } },
      },
    } as any,
  });
}

function makeTop(c: HTMLCanvasElement, p: any) {
  return new Chart(c, {
    type:'line',
    data:{ datasets:[{ data:TOP_X.map((x,i)=>({ x, y:TOP_D[i] })), borderColor:'#3a3a3a', borderWidth:.8, pointRadius:0, tension:.35, fill:'origin', backgroundColor:'#ce7366' }] },
    options:{ responsive:false, animation:false, plugins:{ legend:{ display:false }, tooltip:{ enabled:false } },
      scales:{ x:{ type:'linear', display:false, min:p.xMin, max:7 }, y:{ type:'linear', display:false, min:0, max:1.02 } } },
  } as any);
}

function makeSide(c: HTMLCanvasElement, p: any) {
  const { min, max } = yRange(p.cal, p.T, p.B);
  return new Chart(c, {
    type:'line',
    data:{ datasets:[{ data:p.sv.map((y:number,i:number)=>({ x:p.sd[i], y })), borderColor:'#3a3a3a', borderWidth:.8, pointRadius:0, tension:.3, fill:{ target:{ value:0 } }, backgroundColor:'#4a9fcd' }] },
    options:{ indexAxis:'y', responsive:false, animation:false, plugins:{ legend:{ display:false }, tooltip:{ enabled:false } },
      scales:{ x:{ type:'linear', display:false, min:0, max:1.02 }, y:{ type:'linear', display:false, min, max } } },
  } as any);
}

const BOX = { L:34, R:483, T:508, B:665, top:488, stripTop:491 };

function makeBox(c: HTMLCanvasElement) {
  const { min, max } = yRange([0,658.3,.9,543.7], BOX.T, BOX.B);
  const halfW = .09;
  const datasets: any[] = [];
  GROUP_OFFSET.forEach((off, g) => {
    const whisk: any[] = [], med: any[] = [], bars: any[] = [], dots: any[] = [];
    CATEGORIES.forEach((_, i) => {
      const x = i + off;
      whisk.push({ x, y:Q3[g][i] }, { x, y:WHISK_HIGH[g][i] }, { x, y:null }, { x, y:WHISK_LOW[g][i] }, { x, y:Q1[g][i] }, { x, y:null });
      med.push({ x:x-halfW, y:MEDIAN[g][i] }, { x:x+halfW, y:MEDIAN[g][i] }, { x:x+halfW, y:null });
      bars.push({ x, y:[Q1[g][i], Q3[g][i]] });
      BOX_POINTS[g][i].forEach((y, k) => dots.push({ x: x + JITTER[(k * 7 + i * 3) % JITTER.length] * JITTER_WIDTH[g], y }));
    });
    datasets.push({ type:'scatter', data:dots, pointRadius:1.7, pointBorderWidth:0, pointBackgroundColor:POINT_COLORS[g], order:30 });
    datasets.push({ type:'bar', data:bars, barThickness:13.4, grouped:false, backgroundColor:BOX_COLORS[g], borderColor:'#444', borderWidth:.9, borderSkipped:false, order:20 });
    datasets.push({ type:'line', data:whisk, borderColor:'#444', borderWidth:.9, pointRadius:0, spanGaps:false, order:10 });
    datasets.push({ type:'line', data:med, borderColor:'#1a1a1a', borderWidth:1.2, pointRadius:0, spanGaps:false, order:5 });
  });
  const isMaj = (v:number) => Math.abs(v/.3 - Math.round(v/.3)) < 1e-6;
  return new Chart(c, {
    type:'scatter',
    data:{ datasets },
    plugins:[{
      id:'facetFrame',
      afterDraw(ch:any) {
        const { ctx, chartArea:a, scales } = ch;
        ctx.save();
        ctx.strokeStyle = '#8e8e8e'; ctx.lineWidth = 1.4;
        ctx.strokeRect(a.left, a.top, a.right-a.left, a.bottom-a.top);
        const sh = a.top - (BOX.stripTop - BOX.top);
        ctx.fillStyle = '#d9d9d9';
        ctx.fillRect(a.left, BOX.stripTop - BOX.top, a.right-a.left, sh);
        ctx.strokeRect(a.left, BOX.stripTop - BOX.top, a.right-a.left, sh);
        ctx.fillStyle = '#333'; ctx.font = `8.5px ${SANS}`; ctx.textAlign = 'center'; ctx.textBaseline = 'middle';
        ctx.fillText('STAD', (a.left+a.right)/2, BOX.stripTop - BOX.top + sh/2);
        ctx.fillStyle = '#222'; ctx.font = `bold 13px ${SANS}`; ctx.textBaseline = 'alphabetic';
        SIGNIFICANCE.forEach(([cat, g, mark, n]: any) => {
          const x = scales.x.getPixelForValue(cat + GROUP_OFFSET[g]);
          for (let k = 0; k < n; k++) {
            const yc = a.top + (mark === '.' ? 5 : 6) + k * 5.7;
            ctx.fillText(mark, x, mark === '.' ? yc + 4 : yc + 7.5);
          }
        });
        ctx.restore();
      },
    }],
    options:{
      responsive:false, animation:false, layout:{ padding:{ top:BOX.T-BOX.top, right:4 } },
      plugins:{ legend:{ display:false }, tooltip:{ enabled:false } },
      scales:{
        x:{ type:'linear', offset:false, min:(BOX.L-77.3)/72.4, max:(BOX.R-77.3)/72.4, afterFit:(s:any)=>{ s.height=22; },
          border:{ display:false },
          grid:{ offset:false, color:'#ececec', lineWidth:1, tickColor:'#555', tickLength:3 },
          ticks:{ stepSize:1, includeBounds:false, autoSkip:false, maxRotation:0, padding:1.5, color:'#444', font:{ family:SANS, size:9.5 },
            callback:(v:any)=>CATEGORIES[v] ?? '' } },
        y:{ type:'linear', min, max, afterFit:(s:any)=>{ s.width=BOX.L; },
          border:{ display:false },
          grid:{ color:(ctx:any)=>isMaj(ctx.tick?.value ?? 0)?'#ececec':'#f3f3f3', lineWidth:(ctx:any)=>isMaj(ctx.tick?.value ?? 0)?1.3:.9,
            tickColor:(ctx:any)=>isMaj(ctx.tick?.value ?? 0)?'#555':'rgba(0,0,0,0)', tickLength:3 },
          ticks:{ stepSize:.15, includeBounds:false, autoSkip:false, padding:2, color:'#444', font:{ family:SANS, size:7.5 },
            callback:(v:any)=>isMaj(v)?Number(v).toFixed(1):'' } },
      },
    } as any,
  });
}

function Text({ n }: { n: Note }) {
  return (
    <div style={{
      position:'absolute', left:n.x, top:n.y, whiteSpace:'pre',
      transform:n.rot?'translate(-50%,-50%) rotate(-90deg)':n.left?'translateY(-50%)':'translate(-50%,-50%)',
      fontFamily:n.serif?SERIF:SANS, fontSize:n.size, fontWeight:n.bold?700:400, color:n.color||'#1c1c1c', lineHeight:1,
    }}>{n.t}</div>
  );
}

function LegendKey({ x, y, g }: { x:number; y:number; g:number }) {
  return (
    <div style={{ position:'absolute', left:x, top:y }}>
      <div style={{ position:'absolute', left:-.5, top:-6, width:1, height:12, background:'#555' }} />
      <div style={{ position:'absolute', left:-6, top:-4, width:12, height:8, boxSizing:'border-box', border:'1px solid #555', background:'#fff' }} />
      <div style={{ position:'absolute', left:-6, top:-4, width:12, height:8, boxSizing:'border-box', border:'1px solid #555', background:BOX_COLORS[g] }} />
      <div style={{ position:'absolute', left:-6, top:-.5, width:12, height:1, background:'#333' }} />
      <div style={{ position:'absolute', left:-1.5, top:-1.5, width:3, height:3, borderRadius:2, background:POINT_COLORS[g], boxShadow:'0 0 0 .5px #333' }} />
    </div>
  );
}

export default function App() {
  const root = useRef<HTMLDivElement>(null);
  useEffect(() => {
    const host = root.current!;
    const charts: Chart[] = [];
    const add = (x:number, y:number, w:number, h:number) => {
      const c = document.createElement('canvas');
      c.width = w; c.height = h;
      c.style.cssText = `position:absolute;left:${x}px;top:${y}px;width:${w}px;height:${h}px`;
      host.insertBefore(c, host.firstChild);
      return c;
    };
    PANELS.forEach((p) => {
      charts.push(makeScatter(add(p.L-YW, p.T-PAD, YW+p.R-p.L+PAD, PAD+p.B-p.T+XH), p));
      charts.push(makeTop(add(p.L, p.topB-p.topH, p.R-p.L, p.topH), p));
      charts.push(makeSide(add(p.sx[0], p.T, p.sx[1]-p.sx[0], p.B-p.T), p));
    });
    charts.push(makeBox(add(0, BOX.top, BOX.R+4, BOX.B-BOX.top+22)));
    return () => {
      charts.forEach((ch) => { const cv = ch.canvas; ch.destroy(); cv.remove(); });
    };
  }, []);
  return (
    <div ref={root} style={{ position:'absolute', left:0, top:0, width:685, height:783, overflow:'hidden', background:'#fff', filter:'blur(.35px)' }}>
      {NOTES.map((n, i) => <Text key={i} n={n} />)}
      {LEGEND_KEYS.map((k) => <LegendKey key={k.g} {...k} />)}
    </div>
  );
}
